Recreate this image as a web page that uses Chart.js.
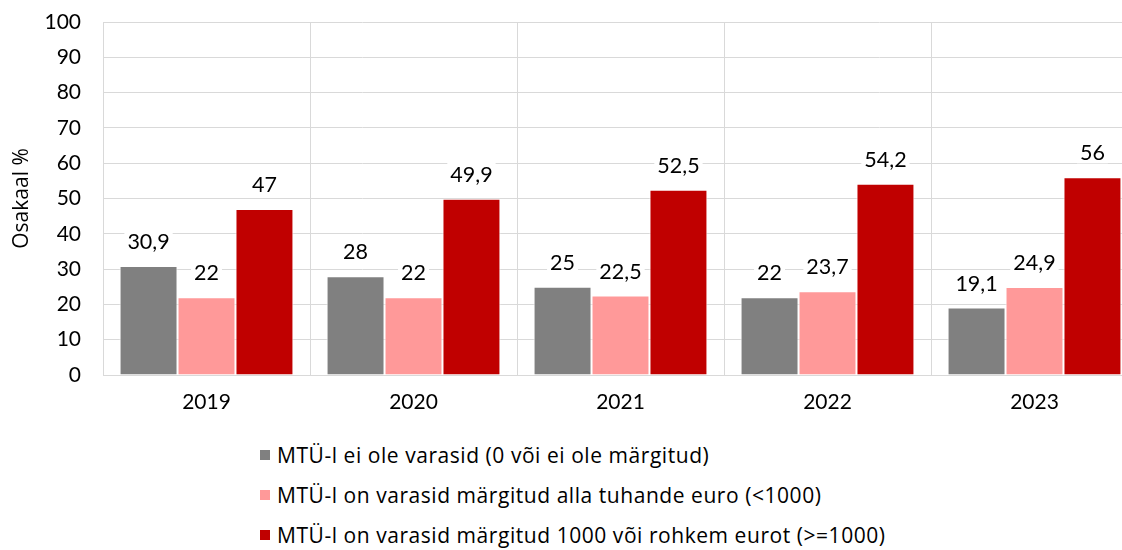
<!DOCTYPE html>
<html>
<head>
<meta charset="utf-8">
<script src="https://cdn.jsdelivr.net/npm/chart.js@4.4.1/dist/chart.umd.min.js"></script>
<style>
  html, body { margin: 0; background: #fff; overflow: hidden; }
  #wrap { position: relative; width: 1122px; height: 550px; overflow: hidden; }
  #chart { position: absolute; left: 0; top: 0; }
  #legend { position: absolute; left: 260px; top: 435px; font-family: "Open Sans", sans-serif; }
  #legend ul { list-style: none; margin: 0; padding: 0; }
  #legend li { height: 40px; display: flex; align-items: center; font-size: 21px; letter-spacing: 0.55px; color: #000; }
  #legend .box { width: 10px; height: 10px; margin-right: 7px; display: inline-block; }
</style>
</head>
<body>
<div id="wrap">
  <canvas id="chart" width="1140" height="430"></canvas>
  <div id="legend"></div>
</div>
<script>
const years = ['2019', '2020', '2021', '2022', '2023'];
const seriesNames = [
  'MTÜ-l ei ole varasid (0 või ei ole märgitud)',
  'MTÜ-l on varasid märgitud alla tuhande euro (<1000)',
  'MTÜ-l on varasid märgitud 1000 või rohkem eurot (>=1000)'
];
const noAssets = [30.9, 28, 25, 22, 19.1];
const under1000 = [22, 22, 22.5, 23.7, 24.9];
const over1000 = [47, 49.9, 52.5, 54.2, 56];
const colors = ['#808080', '#FF9999', '#C00000'];

Chart.defaults.font.family = 'Lato, sans-serif';
Chart.defaults.color = '#000';

// value labels above bars, white box behind
const barLabels = {
  id: 'barLabels',
  afterDatasetsDraw(chart) {
    const ctx = chart.ctx;
    ctx.save();
    ctx.font = '21.5px Lato, sans-serif';
    ctx.textAlign = 'center';
    ctx.textBaseline = 'middle';
    chart.data.datasets.forEach((ds, i) => {
      chart.getDatasetMeta(i).data.forEach((bar, j) => {
        const txt = String(ds.data[j]).replace('.', ',');
        const w = ctx.measureText(txt).width;
        const y = bar.y - 25;
        ctx.fillStyle = '#fff';
        ctx.fillRect(bar.x - w / 2 - 3, y - 11, w + 6, 22);
        ctx.fillStyle = '#000';
        ctx.fillText(txt, bar.x, y + 1);
      });
    });
    ctx.restore();
  }
};

// html legend, one item per row
const htmlLegend = {
  id: 'htmlLegend',
  afterUpdate(chart) {
    const el = document.getElementById('legend');
    const items = chart.options.plugins.legend.labels.generateLabels(chart);
    el.innerHTML = '<ul>' + items.map(it =>
      '<li><span class="box" style="background:' + it.fillStyle + '"></span>' + it.text + '</li>'
    ).join('') + '</ul>';
  }
};

new Chart(document.getElementById('chart'), {
  type: 'bar',
  data: {
    labels: years,
    datasets: [
      { label: seriesNames[0], data: noAssets, backgroundColor: colors[0] },
      { label: seriesNames[1], data: under1000, backgroundColor: colors[1] },
      { label: seriesNames[2], data: over1000, backgroundColor: colors[2] }
    ]
  },
  options: {
    responsive: false,
    animation: false,
    layout: { padding: { top: 22, right: 2, bottom: 10, left: 0 } },
    datasets: {
      bar: {
        categoryPercentage: 0.84,
        barPercentage: 1,
        borderColor: '#fff',
        borderWidth: 1
      }
    },
    plugins: {
      legend: { display: false },
      tooltip: { enabled: false }
    },
    scales: {
      x: {
        grid: { color: '#d9d9d9', drawTicks: false },
        border: { color: '#d9d9d9' },
        ticks: { font: { size: 21 }, padding: 15 },
        afterFit(s) { s.height = 45; }
      },
      y: {
        min: 0,
        max: 100,
        ticks: { stepSize: 10, font: { size: 21 }, padding: 0 },
        // invisible tick marks keep the labels away from the axis
        grid: { color: '#d9d9d9', drawTicks: true, tickLength: 22, tickColor: 'rgba(0,0,0,0)' },
        border: { color: '#d9d9d9' },
        title: { display: true, text: 'Osakaal %', font: { size: 21, family: '"Open Sans", sans-serif' }, padding: { top: 9, bottom: 0 } },
        afterFit(s) { s.width = 103; }
      }
    }
  },
  plugins: [barLabels, htmlLegend]
});
</script>
</body>
</html>
